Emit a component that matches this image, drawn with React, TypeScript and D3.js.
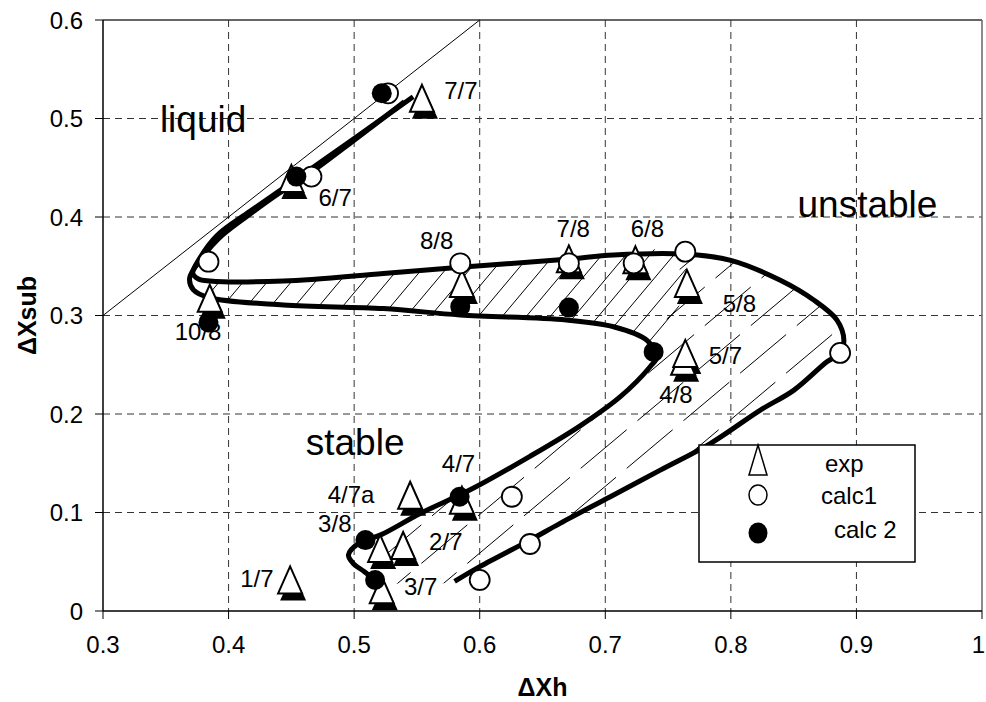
import React from 'react';
import * as d3 from 'd3';

// Axis ticks
const X_TICKS = [0.3, 0.4, 0.5, 0.6, 0.7, 0.8, 0.9, 1];
const Y_TICKS = [0, 0.1, 0.2, 0.3, 0.4, 0.5, 0.6];

// Experimental runs (triangles)
const expPoints = [
  { run: '1/7', x: 0.449, y: 0.030 },
  { run: '3/7', x: 0.522, y: 0.020 },
  { run: '3/8', x: 0.5207, y: 0.062 },
  { run: '2/7', x: 0.539, y: 0.065 },
  { run: '4/7a', x: 0.5446, y: 0.116 },
  { run: '4/7', x: 0.5858, y: 0.111 },
  { run: '4/8', x: 0.762, y: 0.252 },
  { run: '5/7', x: 0.7637, y: 0.260 },
  { run: '5/8', x: 0.765, y: 0.331 },
  { run: '6/8', x: 0.724, y: 0.355 },
  { run: '7/8', x: 0.671, y: 0.356 },
  { run: '8/8', x: 0.5858, y: 0.331 },
  { run: '10/8', x: 0.385, y: 0.316 },
  { run: '6/7', x: 0.450, y: 0.4376 },
  { run: '7/7', x: 0.554, y: 0.519 },
];

// Model 1 results (open circles)
const calc1Points = [
  { run: '7/7', x: 0.527, y: 0.5256 },
  { run: '6/7', x: 0.466, y: 0.441 },
  { run: '10/8', x: 0.384, y: 0.3546 },
  { run: '8/8', x: 0.5845, y: 0.353 },
  { run: '7/8', x: 0.671, y: 0.353 },
  { run: '6/8', x: 0.7226, y: 0.353 },
  { run: '5/8', x: 0.7637, y: 0.3648 },
  { run: '5/7', x: 0.887, y: 0.262 },
  { run: '4/7', x: 0.6256, y: 0.116 },
  { run: '2/7', x: 0.640, y: 0.068 },
  { run: '3/7', x: 0.600, y: 0.0315 },
];

// Model 2 results (filled circles)
const calc2Points = [
  { run: '7/7', x: 0.522, y: 0.5256 },
  { run: '6/7', x: 0.454, y: 0.441 },
  { run: '10/8', x: 0.384, y: 0.293 },
  { run: '8/8', x: 0.5845, y: 0.309 },
  { run: '7/8', x: 0.671, y: 0.308 },
  { run: '5/7', x: 0.7385, y: 0.263 },
  { run: '4/7', x: 0.584, y: 0.116 },
  { run: '3/8', x: 0.509, y: 0.072 },
  { run: '3/7', x: 0.5167, y: 0.0315 },
];

// Stability boundary, model 1 (outer thick curve)
const calc1Curve: [number, number][] = [
  [0.547, 0.522], [0.502, 0.4815], [0.4623, 0.446], [0.4437, 0.4294], [0.417, 0.4057],
  [0.3906, 0.381], [0.377, 0.358], [0.3715, 0.343], [0.376, 0.337], [0.385, 0.335],
  [0.4437, 0.335], [0.5233, 0.3427], [0.5845, 0.349], [0.669, 0.357], [0.7066, 0.3615],
  [0.7625, 0.3625], [0.80, 0.356], [0.839, 0.336], [0.866, 0.3157], [0.8845, 0.2954],
  [0.89, 0.275], [0.887, 0.262], [0.8765, 0.253], [0.85, 0.224], [0.8235, 0.204],
  [0.7836, 0.170], [0.7438, 0.143], [0.704, 0.116], [0.664, 0.089], [0.640, 0.072],
  [0.600, 0.045], [0.580, 0.030],
];

// Stability boundary, model 2 (inner thick curve)
const calc2Curve: [number, number][] = [
  [0.540, 0.517], [0.50, 0.478], [0.462, 0.442], [0.44, 0.424], [0.415, 0.401],
  [0.392, 0.378], [0.378, 0.357], [0.369, 0.338], [0.372, 0.326], [0.385, 0.318],
  [0.4437, 0.3107], [0.5233, 0.307], [0.5845, 0.3005], [0.669, 0.2954], [0.7066, 0.2886],
  [0.733, 0.275], [0.741, 0.258], [0.7357, 0.248], [0.712, 0.2176], [0.68, 0.188],
  [0.64, 0.157], [0.5924, 0.123], [0.5526, 0.099], [0.5207, 0.077], [0.505, 0.070],
  [0.4955, 0.057], [0.499, 0.0487], [0.508, 0.040], [0.5167, 0.0315],
];

// Liquid limit line
const liquidLine: [number, number][] = [[0.3, 0.3], [0.6, 0.6]];

// Run labels
const runLabels = [
  { text: '7/7', x: 0.585, y: 0.529 },
  { text: '6/7', x: 0.4849, y: 0.4198 },
  { text: '10/8', x: 0.3757, y: 0.284 },
  { text: '8/8', x: 0.5657, y: 0.3766 },
  { text: '7/8', x: 0.6745, y: 0.388 },
  { text: '6/8', x: 0.7335, y: 0.388 },
  { text: '5/8', x: 0.8068, y: 0.3127 },
  { text: '5/7', x: 0.7956, y: 0.26 },
  { text: '4/8', x: 0.7563, y: 0.2203 },
  { text: '4/7', x: 0.5831, y: 0.15 },
  { text: '4/7a', x: 0.4975, y: 0.1188 },
  { text: '3/8', x: 0.4846, y: 0.0893 },
  { text: '2/7', x: 0.573, y: 0.071 },
  { text: '3/7', x: 0.553, y: 0.0247 },
  { text: '1/7', x: 0.4225, y: 0.0335 },
];

// Region names
const regionLabels = [
  { text: 'liquid', x: 0.3797, y: 0.4868 },
  { text: 'unstable', x: 0.9088, y: 0.40 },
  { text: 'stable', x: 0.5008, y: 0.158 },
];

const legendItems = ['exp', 'calc1', 'calc 2'];

const W = 986;
const H = 702;
const LEFT = 103;
const RIGHT = 982;
const TOP = 20;
const BOTTOM = 611;
const FONT = "'Liberation Sans', Arial, Helvetica, sans-serif";

const x = d3.scaleLinear().domain([0.3, 1]).range([LEFT, RIGHT]);
const y = d3.scaleLinear().domain([0, 0.6]).range([BOTTOM, TOP]);

const curveGen = d3
  .line<[number, number]>()
  .x((d) => x(d[0]))
  .y((d) => y(d[1]))
  .curve(d3.curveCatmullRom.alpha(0.5));

const straight = d3
  .line<[number, number]>()
  .x((d) => x(d[0]))
  .y((d) => y(d[1]));

// Split the band between the two boundaries into the dense-hatched
// upper part and the sparse-hatched lower part.
const c1Split = calc1Curve.findIndex((p) => p[0] === 0.7625 && p[1] === 0.3625);
const c1Turn = calc1Curve.findIndex((p) => p[0] === 0.376);
const c2Turn = calc2Curve.findIndex((p) => p[0] === 0.372);
const c2Split = calc2Curve.findIndex((p) => p[0] === 0.741);

const upperBand: [number, number][] = [
  ...calc1Curve.slice(c1Turn, c1Split + 1),
  ...calc2Curve.slice(c2Turn, c2Split + 1).reverse(),
];
const lowerBand: [number, number][] = [
  ...calc1Curve.slice(c1Split),
  ...calc2Curve.slice(c2Split).reverse(),
];

function hatchLines(spacing: number, angleDeg: number) {
  const t = Math.tan((angleDeg * Math.PI) / 180);
  const run = (BOTTOM - TOP) / t;
  const out: { x1: number; y1: number; x2: number; y2: number }[] = [];
  for (let c = LEFT - run; c < RIGHT; c += spacing) {
    out.push({ x1: c, y1: BOTTOM, x2: c + run, y2: TOP });
  }
  return out;
}

function triPath(cx: number, cy: number, hw: number, hTop: number, hBot: number) {
  return `M${cx},${cy - hTop}L${cx + hw},${cy + hBot}L${cx - hw},${cy + hBot}Z`;
}

export default function App() {
  const smoothClip = (pts: [number, number][]) => {
    const p = curveGen(pts) || '';
    return p + 'Z';
  };
  const denseLines = hatchLines(24, 50);
  const sparseLines = hatchLines(46, 40);

  const legendX = 699;
  const legendY = 445;
  const legendW = 216;
  const legendH = 117;
  const lastTick = X_TICKS[X_TICKS.length - 1];

  return (
    <svg
      width={W}
      height={H}
      style={{ position: 'absolute', left: 0, top: 0, background: '#fff' }}
      fontFamily={FONT}
    >
      <defs>
        <clipPath id="upperBand">
          <path d={smoothClip(upperBand)} />
        </clipPath>
        <clipPath id="lowerBand">
          <path d={smoothClip(lowerBand)} />
        </clipPath>
        <clipPath id="plotArea">
          <rect x={LEFT} y={TOP} width={RIGHT - LEFT} height={BOTTOM - TOP} />
        </clipPath>
      </defs>
      <rect x={0} y={0} width={W} height={H} fill="#fff" />

      {/* gridlines */}
      <g stroke="#333" strokeWidth={1} strokeDasharray="7 5">
        {X_TICKS.slice(1, -1).map((v) => (
          <line key={'gx' + v} x1={x(v)} x2={x(v)} y1={TOP} y2={BOTTOM} />
        ))}
        {Y_TICKS.slice(1, -1).map((v) => (
          <line key={'gy' + v} x1={LEFT} x2={RIGHT} y1={y(v)} y2={y(v)} />
        ))}
      </g>

      {/* plot frame */}
      <line x1={LEFT} x2={RIGHT} y1={TOP} y2={TOP} stroke="#333" strokeWidth={1.5} />
      <line x1={RIGHT} x2={RIGHT} y1={TOP} y2={BOTTOM} stroke="#666" strokeWidth={1.5} />

      {/* axes */}
      <line x1={LEFT} x2={LEFT} y1={TOP} y2={BOTTOM} stroke="#000" strokeWidth={1.5} />
      <line x1={LEFT} x2={RIGHT} y1={BOTTOM} y2={BOTTOM} stroke="#000" strokeWidth={1.5} />
      {Y_TICKS.map((v) => (
        <g key={'ty' + v}>
          <line x1={LEFT - 8} x2={LEFT} y1={y(v)} y2={y(v)} stroke="#000" strokeWidth={1} />
          <text x={LEFT - 20} y={y(v)} dy="0.36em" textAnchor="end" fontSize={24}>
            {String(v)}
          </text>
        </g>
      ))}
      {X_TICKS.map((v) => (
        <g key={'tx' + v}>
          <line x1={x(v)} x2={x(v)} y1={BOTTOM} y2={BOTTOM + 8} stroke="#000" strokeWidth={1} />
          <text
            x={v === lastTick ? W - 1 : x(v)}
            y={BOTTOM + 42}
            textAnchor={v === lastTick ? 'end' : 'middle'}
            fontSize={24}
          >
            {String(v)}
          </text>
        </g>
      ))}
      <text x={(LEFT + RIGHT) / 2} y={696} textAnchor="middle" fontSize={25} fontWeight="bold">
        ΔXh
      </text>
      <text
        transform={`translate(${36},${(TOP + BOTTOM) / 2}) rotate(-90)`}
        textAnchor="middle"
        fontSize={25}
        fontWeight="bold"
      >
        ΔXsub
      </text>

      {/* liquid limit */}
      <path d={straight(liquidLine) || ''} stroke="#000" strokeWidth={1} fill="none" />

      {/* hatching */}
      <g clipPath="url(#upperBand)" stroke="#000" strokeWidth={1}>
        {denseLines.map((l, i) => (
          <line key={'hd' + i} {...l} />
        ))}
      </g>
      <g clipPath="url(#lowerBand)" stroke="#000" strokeWidth={1} strokeDasharray="60 14">
        {sparseLines.map((l, i) => (
          <line key={'hs' + i} {...l} />
        ))}
      </g>

      {/* boundaries */}
      <g clipPath="url(#plotArea)">
        <path d={curveGen(calc1Curve) || ''} stroke="#000" strokeWidth={5} fill="none" strokeLinejoin="round" />
        <path d={curveGen(calc2Curve) || ''} stroke="#000" strokeWidth={5} fill="none" strokeLinejoin="round" />
      </g>

      {/* experiments */}
      <g>
        {expPoints.map((p) => (
          <path key={'es' + p.run} d={triPath(x(p.x) + 3, y(p.y) + 6, 13, 15, 13)} fill="#000" />
        ))}
        {expPoints.map((p) => (
          <path
            key={'e' + p.run}
            d={triPath(x(p.x), y(p.y), 12, 15, 12)}
            fill="#fff"
            stroke="#000"
            strokeWidth={2}
            strokeLinejoin="miter"
          />
        ))}
      </g>
      {calc1Points.map((p) => (
        <circle key={'c1' + p.run} cx={x(p.x)} cy={y(p.y)} r={10} fill="#fff" stroke="#000" strokeWidth={1.8} />
      ))}
      {calc2Points.map((p) => (
        <circle key={'c2' + p.run} cx={x(p.x)} cy={y(p.y)} r={10} fill="#000" />
      ))}

      {/* labels */}
      {runLabels.map((l) => (
        <text key={'l' + l.text} x={x(l.x)} y={y(l.y)} dy="0.36em" textAnchor="middle" fontSize={24}>
          {l.text}
        </text>
      ))}
      {regionLabels.map((l) => (
        <text key={'r' + l.text} x={x(l.x)} y={y(l.y)} textAnchor="middle" fontSize={37}>
          {l.text}
        </text>
      ))}

      {/* legend */}
      <g>
        <rect x={legendX} y={legendY} width={legendW} height={legendH} fill="#fff" stroke="#000" strokeWidth={1.5} />
        <path d={triPath(legendX + 59, legendY + 15, 9, 15, 15)} fill="#fff" stroke="#000" strokeWidth={1.5} />
        <ellipse cx={legendX + 59} cy={legendY + 50} rx={9} ry={10} fill="#fff" stroke="#000" strokeWidth={1.5} />
        <ellipse cx={legendX + 59} cy={legendY + 88} rx={9.5} ry={10.5} fill="#000" />
        <text x={legendX + 126} y={legendY + 18} dy="0.36em" fontSize={24}>
          {legendItems[0]}
        </text>
        <text x={legendX + 122} y={legendY + 50} dy="0.36em" fontSize={24}>
          {legendItems[1]}
        </text>
        <text x={legendX + 135} y={legendY + 84} dy="0.36em" fontSize={24}>
          {legendItems[2]}
        </text>
      </g>
    </svg>
  );
}
